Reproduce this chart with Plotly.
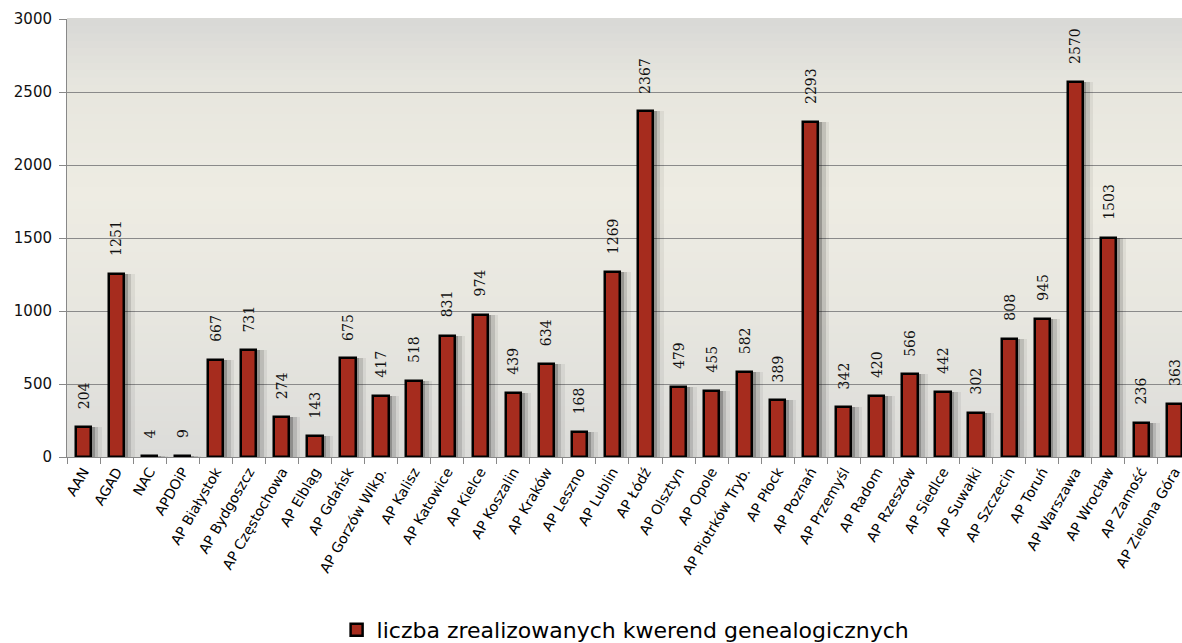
import plotly.graph_objects as go

categories = ["AAN", "AGAD", "NAC", "APDOiP", "AP Białystok", "AP Bydgoszcz", "AP Częstochowa",
              "AP Elbląg", "AP Gdańsk", "AP Gorzów Wlkp.", "AP Kalisz", "AP Katowice", "AP Kielce",
              "AP Koszalin", "AP Kraków", "AP Leszno", "AP Lublin", "AP Łódź", "AP Olsztyn", "AP Opole",
              "AP Piotrków Tryb.", "AP Płock", "AP Poznań", "AP Przemyśl", "AP Radom", "AP Rzeszów",
              "AP Siedlce", "AP Suwałki", "AP Szczecin", "AP Toruń", "AP Warszawa", "AP Wrocław",
              "AP Zamość", "AP Zielona Góra"]
values = [204, 1251, 4, 9, 667, 731, 274, 143, 675, 417, 518, 831, 974, 439, 634, 168, 1269, 2367,
          479, 455, 582, 389, 2293, 342, 420, 566, 442, 302, 808, 945, 2570, 1503, 236, 363]
series_name = "liczba zrealizowanych kwerend genealogicznych"
y_ticks = [0, 500, 1000, 1500, 2000, 2500, 3000]

fig = go.Figure()

# soft shadow layers
fig.add_trace(go.Bar(x=categories, y=values, width=0.75, offset=-0.2,
                     marker=dict(color="rgba(0,0,0,0.06)", line=dict(width=0)),
                     showlegend=False, hoverinfo="skip"))
fig.add_trace(go.Bar(x=categories, y=values, width=0.6, offset=-0.15,
                     marker=dict(color="rgba(0,0,0,0.12)", line=dict(width=0)),
                     showlegend=False, hoverinfo="skip"))
fig.add_trace(go.Bar(x=categories, y=values, width=0.44, offset=-0.1,
                     marker=dict(color="rgba(0,0,0,0.22)", line=dict(width=0)),
                     showlegend=False, hoverinfo="skip"))
# main bars
fig.add_trace(go.Bar(x=categories, y=values, width=0.46, offset=-0.23, name=series_name,
                     marker=dict(color="#A62C1E", line=dict(color="#000000", width=2.5))))

for c, v in zip(categories, values):
    fig.add_annotation(x=c, y=v, text=str(v), textangle=-90, showarrow=False,
                       yanchor="bottom", xanchor="center", yshift=16,
                       font=dict(family="DejaVu Serif", size=14, color="#111111"))

# background gradient bands
def lerp(a, b, t):
    return tuple(int(round(a[i] + (b[i] - a[i]) * t)) for i in range(3))

stops = [(0.0, (220, 220, 217)), (0.35, (232, 231, 224)), (0.6, (238, 236, 227)),
         (0.85, (231, 230, 222)), (1.0, (216, 216, 214))]
n = 60
shapes = []
for i in range(n):
    t0 = i / n
    t1 = (i + 1) / n
    tm = (t0 + t1) / 2
    for j in range(len(stops) - 1):
        if stops[j][0] <= tm <= stops[j + 1][0]:
            tt = (tm - stops[j][0]) / (stops[j + 1][0] - stops[j][0])
            col = lerp(stops[j][1], stops[j + 1][1], tt)
            break
    shapes.append(dict(type="rect", xref="paper", yref="paper", x0=0, x1=1, y0=t0, y1=t1 + 0.002,
                       fillcolor="rgb(%d,%d,%d)" % col, line=dict(width=0), layer="below"))

fig.update_layout(
    width=1182, height=643,
    paper_bgcolor="white", plot_bgcolor="rgba(0,0,0,0)",
    margin=dict(l=67, r=0, t=19, b=186, autoexpand=False),
    barmode="overlay", bargap=0,
    shapes=shapes,
    font=dict(family="DejaVu Sans", color="#000000"),
    showlegend=True,
    legend=dict(orientation="h", x=0.501, xanchor="center", y=-0.395, yanchor="middle",
                font=dict(family="DejaVu Sans", size=22, color="#000000"),
                bgcolor="rgba(0,0,0,0)"),
)
fig.update_xaxes(type="category", categoryorder="array", categoryarray=categories, automargin=False,
                 range=[-0.5, 33.23], tickangle=-60, ticks="outside", tickson="boundaries",
                 ticklen=6, tickcolor="#888888", showgrid=False, showline=True,
                 linecolor="#888888", linewidth=1, tickfont=dict(family="DejaVu Sans", size=14))
fig.update_yaxes(range=[0, 3000], tickvals=y_ticks, ticks="outside", ticklen=7, tickcolor="#888888",
                 automargin=False, ticklabelstandoff=4,
                 showgrid=True, gridcolor="#8a8a8a", gridwidth=1, showline=True, linecolor="#888888",
                 linewidth=1, zeroline=False, tickfont=dict(family="DejaVu Sans", size=15, color="#111111"))

fig.write_html("out.html", config={"displayModeBar": False},
               post_script="document.body.style.margin='0';document.body.style.overflow='hidden';")
